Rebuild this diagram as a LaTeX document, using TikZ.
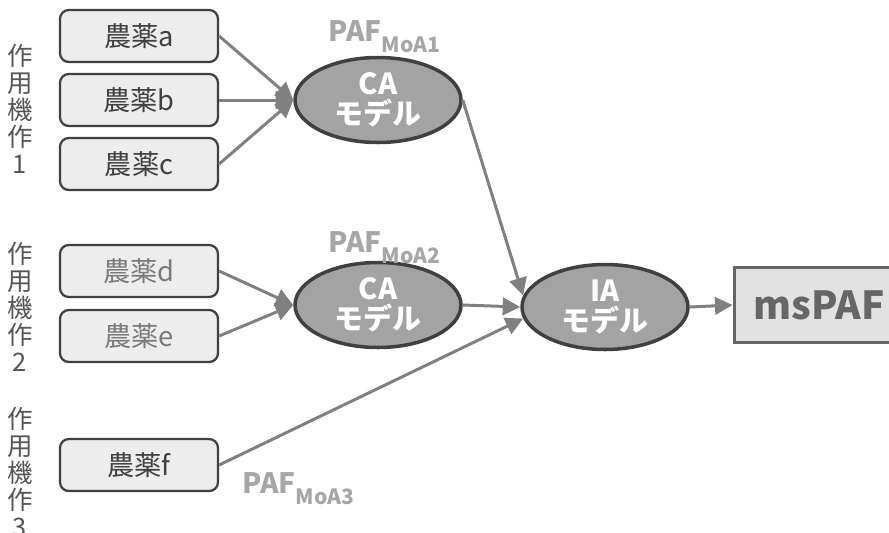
\documentclass[tikz,border=0pt]{standalone}
\usepackage{fontspec}
\setmainfont{Noto Sans CJK JP}
\usepackage{xcolor}
\usetikzlibrary{arrows.meta, shapes.geometric}

\definecolor{boxfill}{HTML}{EDEDED}
\definecolor{boxline}{HTML}{404040}
\definecolor{boxtext}{HTML}{404040}
\definecolor{dimtext}{HTML}{7A7A7A}
\definecolor{arrowgray}{HTML}{808080}
\definecolor{ellfill}{HTML}{A3A3A3}
\definecolor{pafgray}{HTML}{A6A6A6}
\definecolor{moagray}{HTML}{555555}
\definecolor{msfill}{HTML}{E2E2E2}
\definecolor{msline}{HTML}{666666}

\newcommand{\pafsub}[1]{\raisebox{-6.5pt}{\fontsize{12}{12}\selectfont #1}}

\begin{document}
\begin{tikzpicture}[x=0.02cm, y=-0.02cm, >={Triangle[length=10pt,width=10pt]},
  pest/.style={draw=boxline, line width=1.3pt, fill=boxfill, rounded corners=5pt,
    minimum width=3.16cm, minimum height=1.04cm, inner sep=0pt,
    font=\fontsize{15.5}{17}\selectfont},
  model/.style={ellipse, draw=boxline, line width=2pt, fill=ellfill, text=white,
    minimum width=3.32cm, minimum height=1.7cm, inner sep=0pt, align=center,
    font=\bfseries\fontsize{16.5}{17}\selectfont},
  result/.style={draw=msline, line width=1.7pt, fill=msfill, text=msline,
    minimum width=3.4cm, minimum height=1.5cm, inner sep=0pt,
    font=\bfseries\fontsize{22}{24}\selectfont},
  flow/.style={->, arrowgray, line width=1.7pt},
  paf/.style={anchor=base west, inner sep=0pt, text=pafgray,
    font=\bfseries\fontsize{16}{18}\selectfont},
  moa/.style={align=center, inner sep=0pt, text=moagray,
    font=\fontsize{14.5}{15.4}\selectfont}]
  \useasboundingbox (0,0) rectangle (889,532);
  % Mode-of-action labels
  \foreach \y/\n/\name in {109/1/moa1, 307/2/moa2, 472/3/moa3}
    \node[moa] (\name) at (20,\y) {作\\用\\機\\作\\\n};
  % Pesticides
  \foreach \y/\lab/\col/\name in {36/a/boxtext/pa, 100/b/boxtext/pb, 164/c/boxtext/pc,
      271/d/dimtext/pd, 336/e/dimtext/pe, 465/f/boxtext/pf}
    \node[pest, text=\col] (\name) at (139,\y) {農薬\lab};
  % Models
  \node[model] (ca1) at (378,100) {CA\\モデル};
  \node[model] (ca2) at (378,305) {CA\\モデル};
  \node[model] (ia) at (605,307) {IA\\モデル};
  \node[result] (ms) at (819,305) {msPAF};
  % PAF labels
  \node[paf] (paf1) at (328,41) {PAF\pafsub{MoA1}};
  \node[paf] (paf2) at (328,252) {PAF\pafsub{MoA2}};
  \node[paf] (paf3) at (242,493) {PAF\pafsub{MoA3}};
  % Connectors
  \foreach \s in {pa,pb,pc}
    \draw[flow] (\s.east) -- (ca1.west);
  \foreach \s in {pd,pe}
    \draw[flow] (\s.east) -- (ca2.west);
  \draw[flow] (ca1.east) -- (ia.172);
  \draw[flow] (ca2.east) -- (ia.west);
  \draw[flow] (pf.east) -- (ia.188);
  \draw[flow] (ia.east) -- (ms.west);
\end{tikzpicture}
\end{document}
